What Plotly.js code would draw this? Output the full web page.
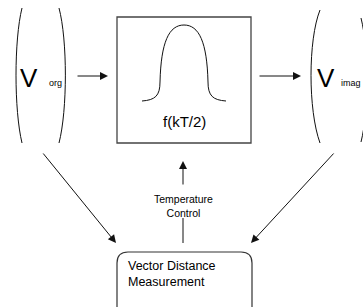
<!DOCTYPE html>
<html>
<head>
<meta charset="utf-8">
<script src="https://cdn.plot.ly/plotly-3.0.1.min.js"></script>
<style>html,body{margin:0;padding:0;background:#fff;}#chart{width:363px;height:307px;}</style>
</head>
<body>
<div id="chart"></div>
<script>
// Diagram labels
const vectorSymbols = ['V', 'V'];
const vectorSubscripts = ['org', 'imag'];
const functionLabel = 'f(kT/2)';
const controlLabel = ['Temperature', 'Control'];
const measureLabel = ['Vector Distance', 'Measurement'];

const FONT = 'Liberation Sans, Arial, Helvetica, sans-serif';
const NARROW = 'Liberation Sans Narrow, Arial Narrow, Liberation Sans, sans-serif';
const ink = '#111';

const shapes = [
  // left vector parentheses
  {type:'path', path:'M 22 8 C 14 40, 14 110, 22 143', line:{color:ink, width:1}},
  {type:'path', path:'M 59 8 C 67.5 40, 67.5 110, 59 143', line:{color:ink, width:1}},
  // right vector parentheses
  {type:'path', path:'M 320 10 C 308 40, 308 110, 320 143', line:{color:ink, width:1}},
  {type:'path', path:'M 361 18 C 369 50, 369 110, 361 142', line:{color:ink, width:1}},
  // function box
  {type:'rect', x0:117, x1:251, y0:17, y1:143, line:{color:'#444', width:1.3}},
  // bell curve
  {type:'path', path:'M 142 101 C 155 100, 160 96, 160 82 C 161 42, 169 25, 184 25 C 199 25, 207 42, 208 82 C 208 96, 213 100, 226 101', line:{color:ink, width:1}},
  // rounded measurement box
  {type:'path', path:'M 128 252 L 241 252 Q 252 252, 252 263 L 252 320 L 117 320 L 117 263 Q 117 252, 128 252 Z', line:{color:'#333', width:1.2}},
  // lower part of temperature control line
  {type:'line', x0:183, x1:183, y0:243, y1:218, line:{color:ink, width:1}}
];

function arrow(tx, ty, fx, fy) {
  return {x:tx, y:ty, ax:fx, ay:fy, xref:'x', yref:'y', axref:'x', ayref:'y',
    text:'', showarrow:true, arrowhead:2, arrowsize:1.6, arrowwidth:1, arrowcolor:ink,
    standoff:0, startstandoff:0};
}

const annotations = [
  arrow(108, 76, 76, 76),
  arrow(301, 76, 258, 76),
  arrow(116, 243, 42, 152),
  arrow(251, 243, 335, 152),
  arrow(183, 161, 183, 186),
  {x:29, y:78, xref:'x', yref:'y', text:vectorSymbols[0], showarrow:false, font:{family:NARROW, size:26, color:'#000'}},
  {x:47, y:82.5, xref:'x', yref:'y', xanchor:'left', text:vectorSubscripts[0], showarrow:false, font:{family:FONT, size:9, color:'#000'}},
  {x:325.5, y:78, xref:'x', yref:'y', text:vectorSymbols[1], showarrow:false, font:{family:NARROW, size:26, color:'#000'}},
  {x:339, y:82.5, xref:'x', yref:'y', xanchor:'left', text:vectorSubscripts[1], showarrow:false, font:{family:FONT, size:9, color:'#000'}},
  {x:184, y:121, xref:'x', yref:'y', text:functionLabel, showarrow:false, font:{family:FONT, size:15, color:'#000'}},
  {x:183, y:205.5, xref:'x', yref:'y', text:controlLabel.join('<br>'), showarrow:false, font:{family:FONT, size:10.5, color:'#000'}},
  {x:126, y:274, xref:'x', yref:'y', xanchor:'left', align:'left', text:measureLabel.join('<br>'), showarrow:false, font:{family:FONT, size:12.5, color:'#000'}}
];

const layout = {
  width:363, height:307,
  margin:{l:0, r:0, t:0, b:0},
  paper_bgcolor:'#fff', plot_bgcolor:'#fff',
  xaxis:{range:[0,363], visible:false, fixedrange:true},
  yaxis:{range:[307,0], visible:false, fixedrange:true},
  showlegend:false,
  shapes:shapes,
  annotations:annotations
};

Plotly.newPlot('chart', [{x:[], y:[], type:'scatter', mode:'markers', hoverinfo:'skip'}], layout, {staticPlot:true, displayModeBar:false});
</script>
</body>
</html>
